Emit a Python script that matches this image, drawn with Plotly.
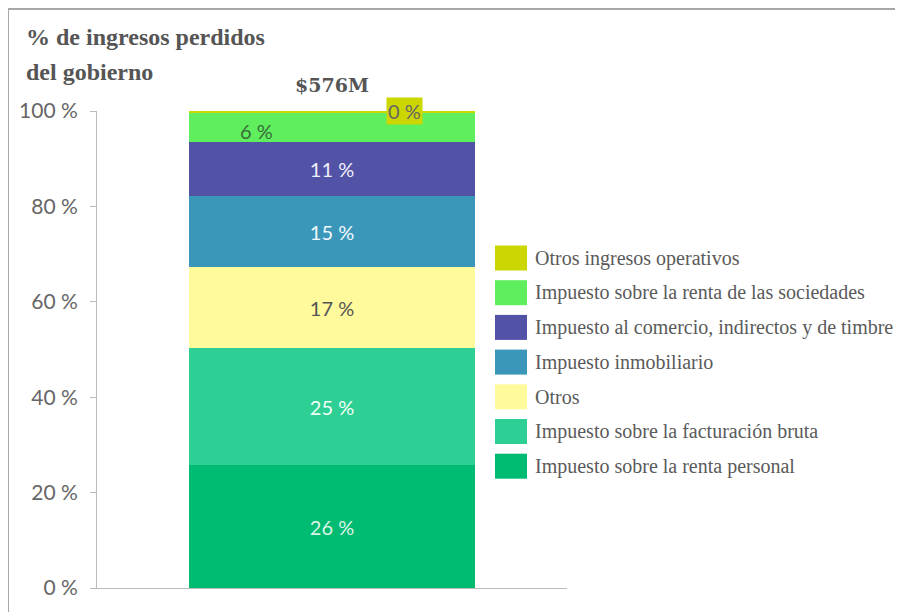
import plotly.graph_objects as go

# stacked bar, bottom -> top
categorias = ["Impuesto sobre la renta personal",
              "Impuesto sobre la facturación bruta",
              "Otros",
              "Impuesto inmobiliario",
              "Impuesto al comercio, indirectos y de timbre",
              "Impuesto sobre la renta de las sociedades",
              "Otros ingresos operativos"]
valores = [25.7, 24.6, 17.1, 14.7, 11.3, 6.3, 0.3]
etiquetas = ["26 %", "25 %", "17 %", "15 %", "11 %", "6 %", "0 %"]
colores = ["#00BB72", "#2DCF94", "#FFFA9C", "#3A97BA", "#5252A6", "#5EEE5E", "#CCD600"]
colores_texto = ["#DDF5E8", "#F4FFF8", "#555555", "#F2F8FB", "#F0F0FA", "#3B6B3B", "#666666"]
total = "$576M"
yticks = [0, 20, 40, 60, 80, 100]
yticktext = ["0 %", "20 %", "40 %", "60 %", "80 %", "100 %"]

OFF = 8  # page body margin
W, H = 903 - OFF, 612 - OFF
L, R, T, B = 97, 567, 111, 588  # plot area in screen pixels


def px_x(p):
    return (p - L) / (R - L)


def px_y(p):
    return (B - p) / (B - T)


sans = "Lato, Open Sans, sans-serif"
serif = "Liberation Serif, Times New Roman, serif"

fig = go.Figure()
base = 0
for i, (nombre, v) in enumerate(zip(categorias, valores)):
    interior = i < 5
    fig.add_trace(go.Bar(
        x=[0], y=[v], base=[base], name=nombre, width=0.61,
        marker=dict(color=colores[i], line=dict(width=0)),
        text=[etiquetas[i]] if interior else None,
        textposition="inside", insidetextanchor="middle",
        textfont=dict(family=sans, size=20, color=colores_texto[i]),
        showlegend=False, hoverinfo="name+y"))
    base += v

annotations = []
# small segments labelled beside the centre
acum = sum(valores[:5])
annotations.append(dict(x=-0.16, y=acum + valores[5] / 2 - 0.8, xref="x", yref="y",
                        xanchor="center", yanchor="middle",
                        text=etiquetas[5], showarrow=False,
                        font=dict(family=sans, size=20, color=colores_texto[5])))
annotations.append(dict(x=0.155, y=acum + valores[5] + valores[6], xref="x", yref="y",
                        xanchor="center", yanchor="middle",
                        text=etiquetas[6], showarrow=False, bgcolor=colores[6], borderpad=1,
                        font=dict(family=sans, size=20, color=colores_texto[6])))

# titles
for texto, cy in [("% de ingresos perdidos", 37), ("del gobierno", 72)]:
    annotations.append(dict(x=px_x(24), y=px_y(cy), xref="paper", yref="paper",
                            xanchor="left", yanchor="middle",
                            text="<b>" + texto + "</b>", showarrow=False,
                            font=dict(family=serif, size=24, color="#555555")))
annotations.append(dict(x=0, y=px_y(85), xref="x", yref="paper",
                        xanchor="center", yanchor="middle",
                        text="<b>" + total + "</b>", showarrow=False,
                        font=dict(family="DejaVu Serif, serif", size=19, color="#555555")))

# legend drawn by hand, top item = last series
shapes = []
fila0, paso = 258, 34.7
for k, i in enumerate(reversed(range(len(categorias)))):
    cy = fila0 + k * paso
    shapes.append(dict(type="rect", xref="paper", yref="paper",
                       x0=px_x(495), x1=px_x(527), y0=px_y(cy + 12.5), y1=px_y(cy - 12.5),
                       fillcolor=colores[i], line=dict(width=0)))
    annotations.append(dict(x=px_x(533), y=px_y(cy), xref="paper", yref="paper",
                            xanchor="left", yanchor="middle", text=categorias[i], showarrow=False,
                            font=dict(family=serif, size=20, color="#5A5A5A")))

# outer frame: only top and left edges are visible
marco = dict(color="#A8A8A8", width=2)
shapes.append(dict(type="line", xref="paper", yref="paper",
                   x0=px_x(8), x1=px_x(960), y0=px_y(9), y1=px_y(9), line=marco))
shapes.append(dict(type="line", xref="paper", yref="paper",
                   x0=px_x(8), x1=px_x(8), y0=px_y(9), y1=px_y(660), line=marco))

fig.update_layout(
    width=W, height=H,
    margin=dict(l=L - OFF, r=W - (R - OFF), t=T - OFF, b=H - (B - OFF), autoexpand=False),
    paper_bgcolor="white", plot_bgcolor="white",
    barmode="overlay", bargap=0,
    annotations=annotations, shapes=shapes,
    xaxis=dict(range=[-0.5, 0.5], showticklabels=False, showgrid=False, zeroline=False,
               showline=True, linecolor="#BBBBBB", linewidth=1, ticks=""),
    yaxis=dict(range=[0, 100], tickvals=yticks, ticktext=yticktext, showgrid=False, zeroline=False,
               showline=True, linecolor="#BBBBBB", linewidth=1,
               ticks="outside", ticklen=6, tickcolor="#BBBBBB", ticklabelstandoff=8,
               tickfont=dict(family=sans, size=21, color="#666666")),
    showlegend=False,
)

fig.write_html("out.html")
